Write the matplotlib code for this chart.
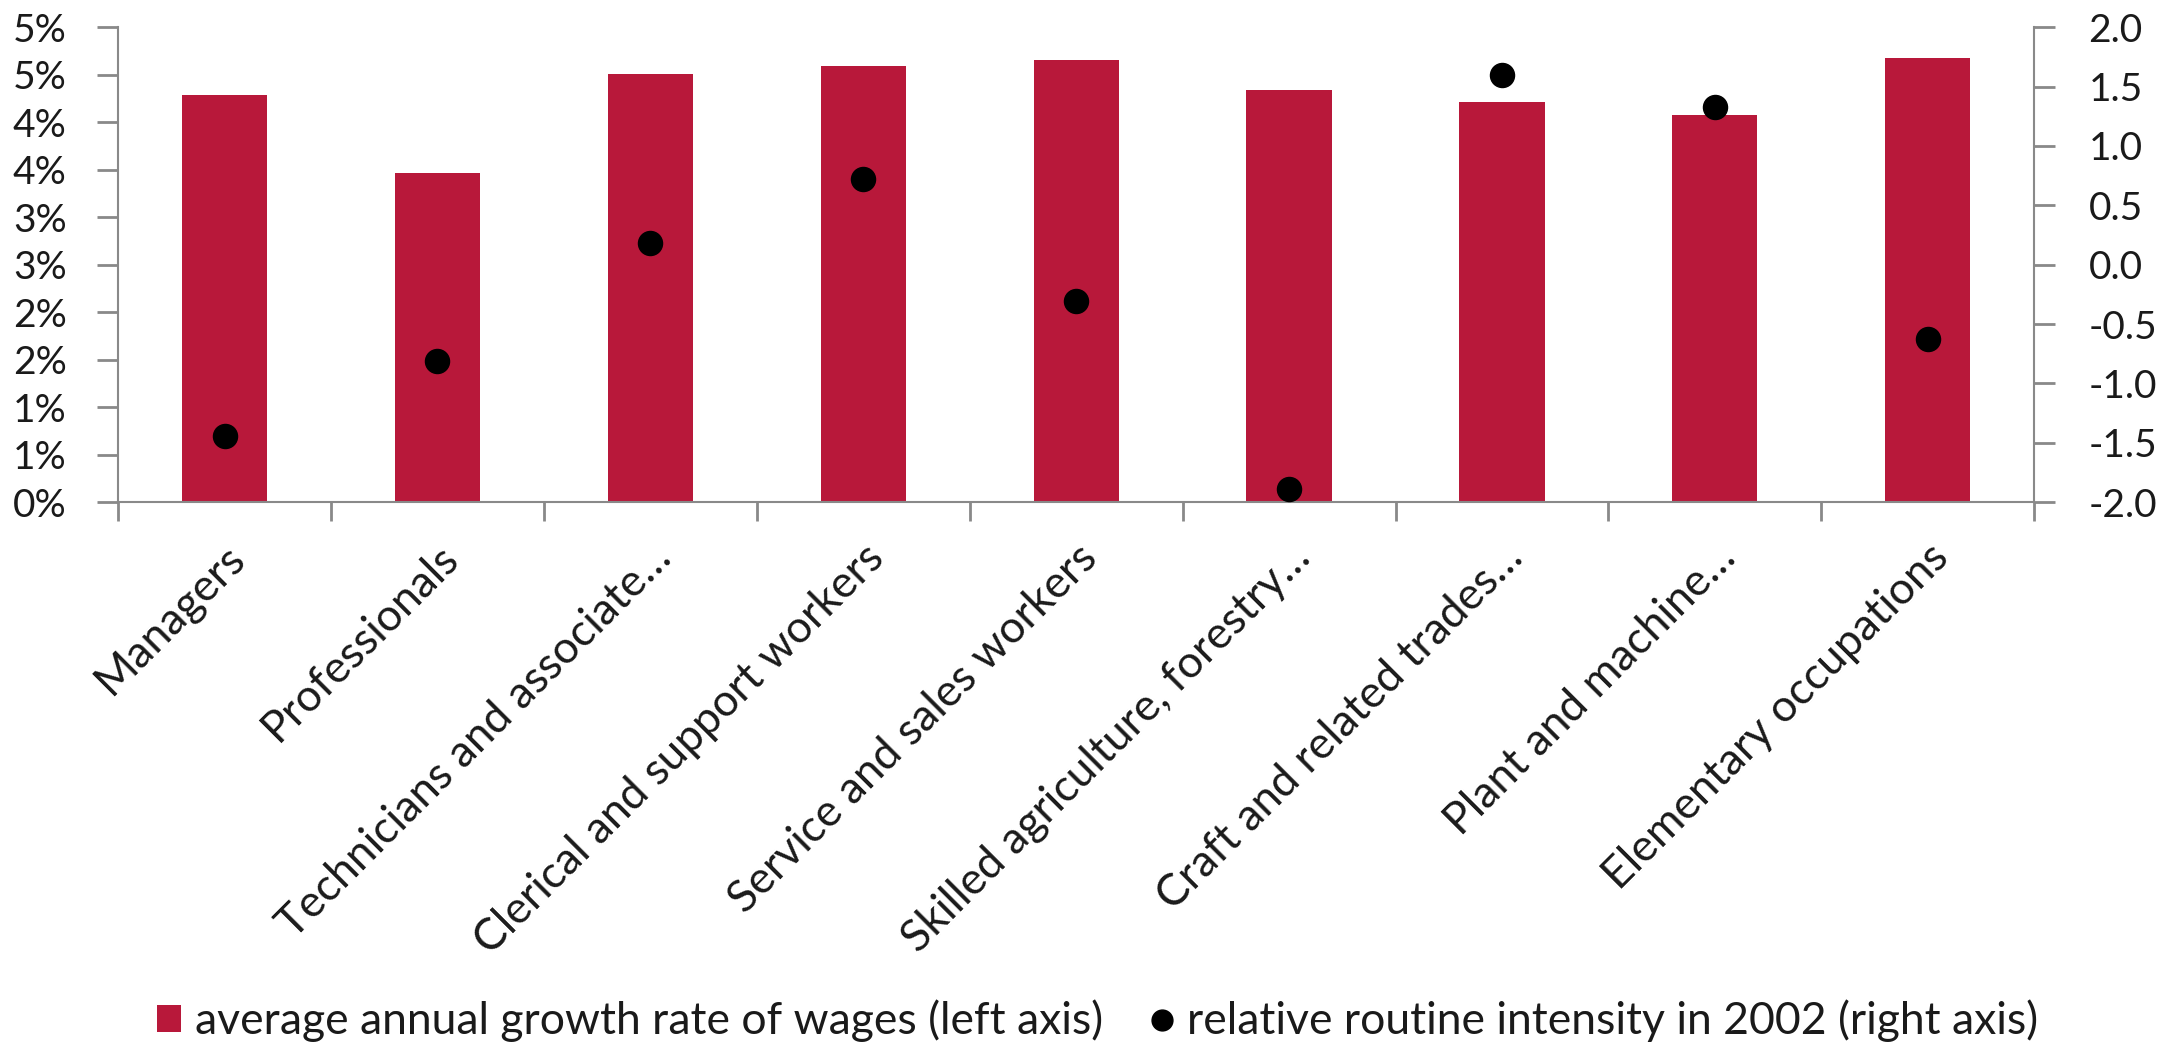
#!/usr/bin/env python3
"""Wage growth vs routine intensity by occupation (bars + dots, twin axes)."""

import matplotlib
matplotlib.use('Agg')
import matplotlib.pyplot as plt
from matplotlib.lines import Line2D
from matplotlib.patches import Patch
from matplotlib.transforms import ScaledTranslation

# Data
occupations = [
    'Managers',
    'Professionals',
    'Technicians and associate…',
    'Clerical and support workers',
    'Service and sales workers',
    'Skilled agriculture, forestry…',
    'Craft and related trades…',
    'Plant and machine…',
    'Elementary occupations',
]
wage_growth = [4.29, 3.47, 4.51, 4.59, 4.65, 4.34, 4.21, 4.08, 4.67]  # % per year
routine_intensity = [-1.44, -0.81, 0.18, 0.72, -0.31, -1.89, 1.60, 1.33, -0.63]

left_ticks = [0, 0.5, 1, 1.5, 2, 2.5, 3, 3.5, 4, 4.5, 5]
left_tick_labels = ['0%', '1%', '1%', '2%', '2%', '3%', '3%', '4%', '4%', '5%', '5%']
right_ticks = [-2.0, -1.5, -1.0, -0.5, 0.0, 0.5, 1.0, 1.5, 2.0]
right_tick_labels = ['-2.0', '-1.5', '-1.0', '-0.5', '0.0', '0.5', '1.0', '1.5', '2.0']

bar_label = 'average annual growth rate of wages (left axis)'
dot_label = 'relative routine intensity in 2002 (right axis)'

BAR_COLOR = '#B8183A'
AXIS_GRAY = '#898989'
TEXT = '#1a1a1a'
FONT = ['Lato', 'DejaVu Sans']
FS = 28      # tick numbers
FS_TXT = 32  # category labels and legend

plt.rcParams['font.family'] = FONT
plt.rcParams['font.weight'] = 'normal'

fig = plt.figure(figsize=(21.78, 10.44), dpi=100)
ax = fig.add_axes([0.0542, 0.519, 0.8798, 0.455])
ax2 = ax.twinx()

x = list(range(len(occupations)))
ax.bar(x, wage_growth, width=0.40, color=BAR_COLOR, zorder=2)
ax2.scatter(x, routine_intensity, s=300, color='black', zorder=3)

ax.set_xlim(-0.5, len(occupations) - 0.5)
ax.set_ylim(0, 5)
ax2.set_ylim(-2, 2)

# left axis
ax.set_yticks(left_ticks)
ax.set_yticklabels(left_tick_labels)
# right axis
ax2.set_yticks(right_ticks)
ax2.set_yticklabels(right_tick_labels)

# category labels at centres, tick marks at the boundaries
ax.set_xticks(x)
ax.set_xticklabels(occupations, rotation=45, ha='right', va='top',
                   rotation_mode='anchor')
shift = ScaledTranslation(-0.08, 0, fig.dpi_scale_trans)
for lab in ax.get_xticklabels():
    lab.set_transform(lab.get_transform() + shift)
ax.set_xticks([i - 0.5 for i in range(len(occupations) + 1)], minor=True)
ax.tick_params(axis='x', which='major', length=0, pad=25, labelsize=FS_TXT,
               labelcolor=TEXT)
ax.tick_params(axis='x', which='minor', length=14, width=2, color=AXIS_GRAY,
               direction='out')
ax.tick_params(axis='y', length=15, width=2, color=AXIS_GRAY, pad=22,
               labelsize=FS, labelcolor=TEXT)
ax2.tick_params(axis='y', length=15, width=2, color=AXIS_GRAY, pad=24,
                labelsize=FS, labelcolor=TEXT)

for a in (ax, ax2):
    a.spines['top'].set_visible(False)
    for s in ('left', 'right', 'bottom'):
        a.spines[s].set_color(AXIS_GRAY)
        a.spines[s].set_linewidth(1.5)
ax.spines['right'].set_visible(False)
ax2.spines['left'].set_visible(False)
ax2.spines['bottom'].set_visible(False)

handles = [
    Patch(facecolor=BAR_COLOR, edgecolor='none', label=bar_label),
    Line2D([], [], marker='o', linestyle='none', color='black',
           markersize=15, label=dot_label),
]
leg = fig.legend(handles=handles, loc='center', bbox_to_anchor=(0.504, 0.022),
                 ncol=2, frameon=False, fontsize=FS_TXT, handlelength=0.55,
                 handleheight=0.55, handletextpad=0.3, columnspacing=1.05,
                 borderaxespad=0)
for t in leg.get_texts():
    t.set_color(TEXT)

fig.savefig('out.png', dpi=100)
